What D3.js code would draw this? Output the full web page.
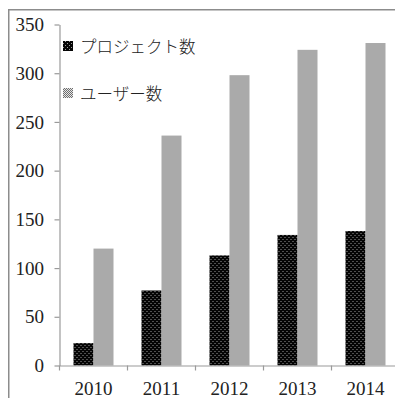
<!DOCTYPE html>
<html><head><meta charset="utf-8">
<script src="https://cdn.jsdelivr.net/npm/d3@7"></script>
<style>
html,body{margin:0;padding:0;background:#fff;}
svg{display:block;}
</style></head>
<body>
<svg id="c" width="395" height="398"></svg>
<script>
const years = ["2010","2011","2012","2013","2014"];
const seriesNames = ["プロジェクト数","ユーザー数"];
const projects = [23, 77, 113, 134, 138];
const users = [120, 236, 298, 324, 331];
const yTicks = [0,50,100,150,200,250,300,350];

const svg = d3.select("#c");
const defs = svg.append("defs");
// black dotted pattern
const pb = defs.append("pattern").attr("id","pBlack").attr("patternUnits","userSpaceOnUse")
  .attr("width",4).attr("height",4);
pb.append("rect").attr("width",4).attr("height",4).attr("fill","#050505");
pb.append("rect").attr("x",1).attr("y",1).attr("width",1).attr("height",1).attr("fill","#9a9a9a");
pb.append("rect").attr("x",3).attr("y",3).attr("width",1).attr("height",1).attr("fill","#9a9a9a");
// gray checker pattern
const pg = defs.append("pattern").attr("id","pGray").attr("patternUnits","userSpaceOnUse")
  .attr("width",2).attr("height",2);
pg.append("rect").attr("width",2).attr("height",2).attr("fill","#e6e6e6");
pg.append("rect").attr("x",0).attr("y",0).attr("width",1).attr("height",1).attr("fill","#6e6e6e");
pg.append("rect").attr("x",1).attr("y",1).attr("width",1).attr("height",1).attr("fill","#6e6e6e");

// frame
svg.append("rect").attr("x",8.75).attr("y",9.75).attr("width",600).attr("height",600)
  .attr("fill","none").attr("stroke","#8c8c8c").attr("stroke-width",1.5);

const x = d3.scaleBand().domain(years).range([59.5, 399.5]).padding(0);
const xs = d3.scaleBand().domain(seriesNames).range([0, x.bandwidth()]).paddingInner(0).paddingOuter(0.7);
const y = d3.scaleLinear().domain([0,350]).range([365.5, 24.5]);

const data = years.map((yr,i)=>({year:yr, values:[projects[i], users[i]]}));
const fills = ["url(#pBlack)","url(#pGray)"];

const g = svg.append("g");
g.selectAll("g.grp").data(data).join("g").attr("class","grp")
  .attr("transform", d=>`translate(${x(d.year)},0)`)
  .selectAll("rect").data(d=>d.values.map((v,k)=>({k,v})))
  .join("rect")
  .attr("x", d=>xs(seriesNames[d.k]))
  .attr("width", xs.bandwidth())
  .attr("y", d=>y(d.v))
  .attr("height", d=>y(0)-y(d.v))
  .attr("fill", d=>fills[d.k]);

const axisColor = "#9a9a9a";
const font = "'Liberation Serif','DejaVu Serif',serif";

// y axis
const ya = svg.append("g").attr("transform","translate(59.5,0)")
  .call(d3.axisLeft(y).tickValues(yTicks).tickSize(5).tickSizeOuter(0).tickPadding(10.5));
ya.select(".domain").attr("stroke",axisColor).attr("stroke-width",1.2);
ya.selectAll(".tick line").attr("stroke",axisColor).attr("stroke-width",1.2);
ya.selectAll(".tick text").attr("font-family",font).attr("font-size",19).attr("fill","#222");

// x axis
const xa = svg.append("g").attr("transform",`translate(0,${y(0)})`)
  .call(d3.axisBottom(x).tickSize(0).tickPadding(16));
xa.select(".domain").attr("stroke",axisColor).attr("stroke-width",1.2);
xa.selectAll(".tick text").attr("font-family",font).attr("font-size",19).attr("fill","#222");
// boundary ticks
xa.selectAll("line.bt").data(years).join("line").attr("class","bt")
  .attr("x1", d=>x(d)).attr("x2", d=>x(d)).attr("y1",0).attr("y2",5)
  .attr("stroke",axisColor).attr("stroke-width",1.2);

// legend
const lg = svg.append("g");
const rowsY = [46, 93];
seriesNames.forEach((name,k)=>{
  lg.append("rect").attr("x",63).attr("y",rowsY[k]-5).attr("width",10).attr("height",10)
    .attr("fill",fills[k]);
  lg.append("text").attr("x",80).attr("y",rowsY[k]).attr("dominant-baseline","central")
    .attr("font-family","'Noto Sans CJK JP',sans-serif").attr("font-size",16.5)
    .attr("font-weight",300).attr("fill","#222").text(name);
});
</script>
</body></html>
